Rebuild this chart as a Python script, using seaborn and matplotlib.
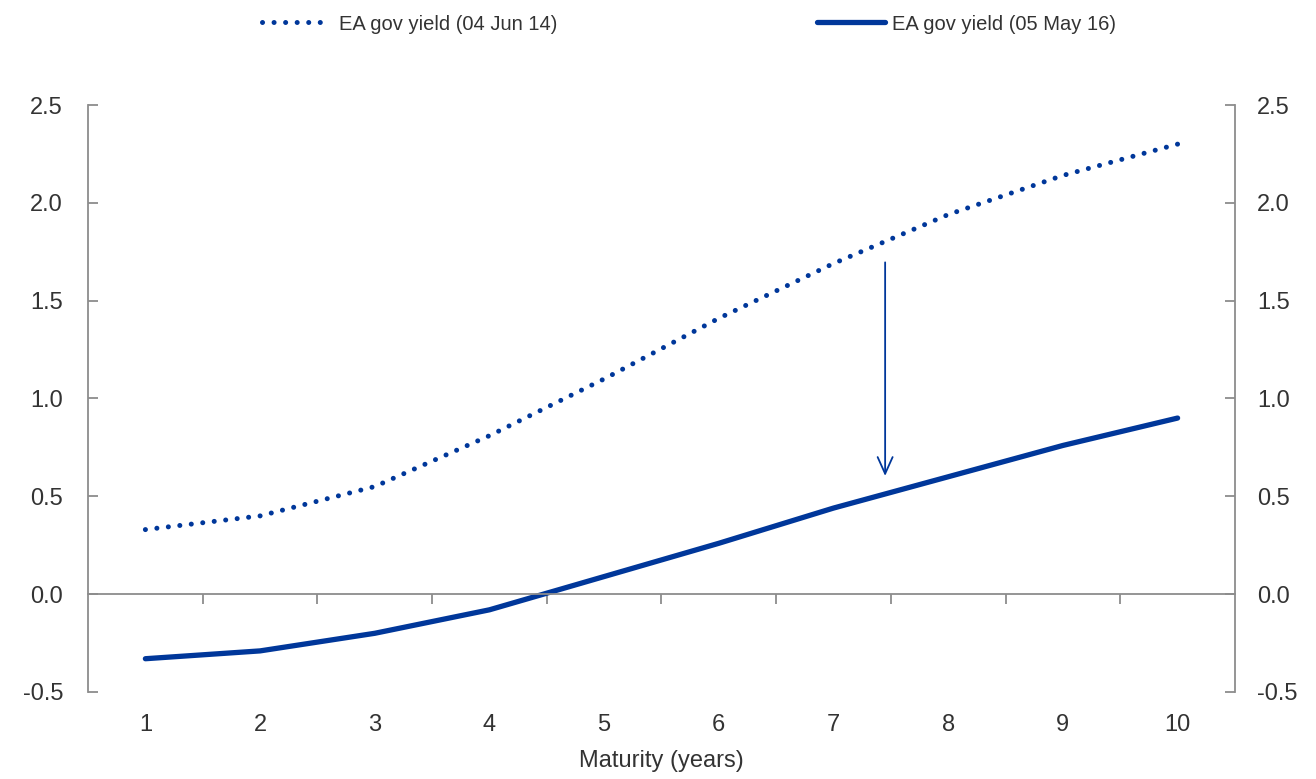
import numpy as np
import pandas as pd
import seaborn as sns
import matplotlib.pyplot as plt

maturity = [1, 2, 3, 4, 5, 6, 7, 8, 9, 10]
yield_jun14 = [0.33, 0.40, 0.55, 0.81, 1.10, 1.41, 1.69, 1.94, 2.14, 2.30]
yield_may16 = [-0.33, -0.29, -0.20, -0.08, 0.09, 0.26, 0.44, 0.60, 0.76, 0.90]
labels = ["EA gov yield (04 Jun 14)", "EA gov yield (05 May 16)"]
y_ticks = [-0.5, 0.0, 0.5, 1.0, 1.5, 2.0, 2.5]
arrow_x = 7.45
arrow_from, arrow_to = 1.71, 0.59

blue = "#00379a"
grey = "#8c8c8c"
text_col = "#333333"

sns.set_theme(style="white")
plt.rcParams["font.family"] = ["Liberation Sans", "DejaVu Sans"]

df = pd.DataFrame({
    "maturity": maturity * 2,
    "yield": yield_jun14 + yield_may16,
    "series": [labels[0]] * 10 + [labels[1]] * 10,
})

fig = plt.figure(figsize=(13.16, 7.79), dpi=100)
ax = fig.add_axes([0.0669, 0.1117, 0.8715, 0.7535])

sns.lineplot(data=df[df.series == labels[0]], x="maturity", y="yield", ax=ax,
             color=blue, lw=3.6, label=labels[0])
dotted = ax.lines[-1]
dotted.set_dashes([0.01, 2.3])
dotted.set_dash_capstyle("round")
sns.lineplot(data=df[df.series == labels[1]], x="maturity", y="yield", ax=ax,
             color=blue, lw=3.8, label=labels[1])
solid = ax.lines[-1]
solid.set_solid_capstyle("round")

ax.annotate("", xy=(arrow_x, arrow_to), xytext=(arrow_x, arrow_from),
            arrowprops=dict(arrowstyle="->,head_length=1.0,head_width=0.45",
                            color=blue, lw=1.3))

ax.set_xlim(0.5, 10.5)
ax.set_ylim(-0.5, 2.5)
ax.set_yticks(y_ticks)
ax.set_yticklabels([f"{v:.1f}" for v in y_ticks])
ax.set_xticks(maturity)
ax.set_xticks(np.arange(1.5, 10, 1), minor=True)

for s in ["left", "right"]:
    ax.spines[s].set_color(grey)
    ax.spines[s].set_linewidth(1.3)
ax.spines["bottom"].set_visible(False)
ax.spines["top"].set_position(("data", 0))
ax.spines["top"].set_color(grey)
ax.spines["top"].set_linewidth(1.3)

ax.tick_params(axis="x", which="major", length=0, pad=16, labelsize=17,
               labelcolor=text_col)
ax.tick_params(axis="x", which="minor", top=True, bottom=False, direction="in",
               length=7, width=1.3, color=grey)
ax.tick_params(axis="y", left=True, direction="in", length=7, width=1.3,
               color=grey, labelsize=17, labelcolor=text_col, pad=18)

ax2 = ax.twinx()
ax2.set_ylim(ax.get_ylim())
ax2.set_yticks(y_ticks)
ax2.set_yticklabels([f"{v:.1f}" for v in y_ticks])
ax2.tick_params(axis="y", right=True, direction="in", length=7, width=1.3,
                color=grey, labelsize=17, labelcolor=text_col, pad=16)
for s in ax2.spines.values():
    s.set_visible(False)

ax.set_xlabel("Maturity (years)", fontsize=17, color=text_col, labelpad=10)
ax.set_ylabel("")

ax.get_legend().remove()
fig.legend([dotted], [labels[0]], loc="center left",
           bbox_to_anchor=(262 / 1316, 1 - 24 / 779), frameon=False,
           fontsize=14.5, handlelength=3.0, handletextpad=0.8, borderpad=0,
           borderaxespad=0, labelcolor=text_col)
fig.legend([solid], [labels[1]], loc="center left",
           bbox_to_anchor=(817 / 1316, 1 - 24 / 779), frameon=False,
           fontsize=14.5, handlelength=3.4, handletextpad=0.3, borderpad=0,
           borderaxespad=0, labelcolor=text_col)

fig.savefig("out.png", dpi=100)
